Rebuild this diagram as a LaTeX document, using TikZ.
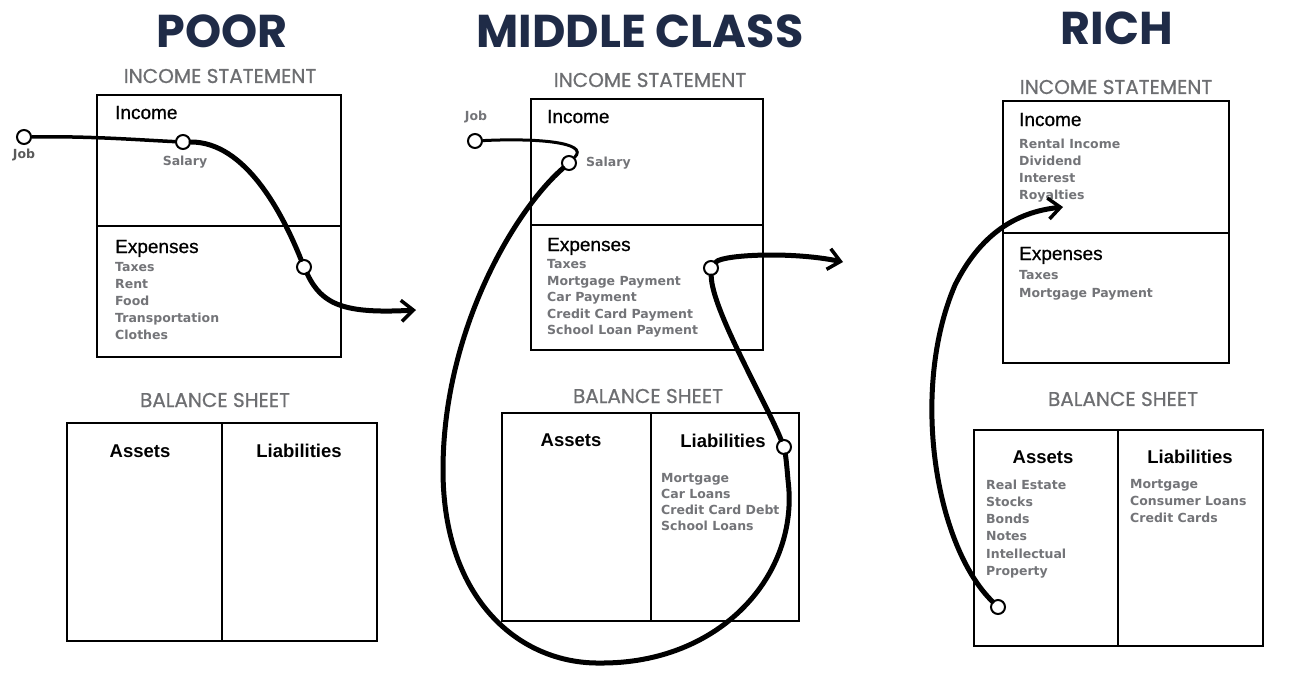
\documentclass[tikz,border=0pt]{standalone}
\usepackage{fontspec}
\setmainfont{Liberation Sans}
\newfontfamily\popf{Poppins}
\newfontfamily\popsect{Poppins}[FakeBold=0.6]
\newfontfamily\hdf{Liberation Sans}[FakeBold=0.8]
\newfontfamily\dvf{DejaVu Sans}
\usetikzlibrary{arrows.meta}
\definecolor{navy}{HTML}{1F2B47}
\definecolor{sgray}{HTML}{6D6E71}
\definecolor{igray}{HTML}{737478}
\begin{document}
\begin{tikzpicture}[x=1pt,y=-1pt,
  ttl/.style={font=\popf\bfseries\fontsize{46}{46}\selectfont, text=navy, inner sep=0},
  sect/.style={font=\popsect\fontsize{20}{20}\selectfont, text=sgray, inner sep=0},
  hd/.style={font=\hdf\fontsize{19}{19}\selectfont, anchor=base west, inner sep=0},
  hdb/.style={font=\bfseries\fontsize{18.5}{18.5}\selectfont, anchor=base, inner sep=0},
  items/.style={font=\dvf\bfseries\fontsize{12.5}{17}\selectfont, text=igray, align=left, anchor=north west, inner sep=0},
  lbl/.style={font=\dvf\bfseries\fontsize{12.5}{12.5}\selectfont, text=igray, inner sep=0},
  box/.style={draw, line width=2.6pt},
  dot/.style={circle, draw, line width=2pt, fill=white, minimum size=14pt, inner sep=0},
  flow/.style={line width=5pt, line cap=round},
  tip/.style={-{Straight Barb[length=12pt,width=21pt,line width=3.5pt]}}
]
\fill[white] (0,0) rectangle (1292,689);
\useasboundingbox (0,0) rectangle (1292,689);

% titles
\node[ttl] (tpoor) at (222,31) {POOR};
\node[ttl] (tmid) at (640,31) {MIDDLE CLASS};
\node[ttl] (trich) at (1117,28) {RICH};

% ---------- POOR ----------
\node[sect] (pis) at (220,76) {INCOME STATEMENT};
\draw[box] (97,95) rectangle (341,357);
\draw[box] (97,226) -- (341,226);
\node[hd] (pinc) at (115,119) {Income};
\node[hd] (pexph) at (115,253) {Expenses};
\node[items] (pexpi) at (115,262.5) {Taxes\\Rent\\Food\\Transportation\\Clothes};
\node[sect] (pbs) at (215,400) {BALANCE SHEET};
\draw[box] (67,423) rectangle (377,641);
\draw[box] (222,423) -- (222,641);
\node[hdb] (pass) at (140,457) {Assets};
\node[hdb] (pliab) at (299,457) {Liabilities};
\node[lbl, text=black!65] (pjobl) at (24,155) {Job};
\node[lbl] (psall) at (185,162) {Salary};
\node[dot] (pjob) at (24,137) {};
\node[dot] (psal) at (183,142) {};
\node[dot] (pexp) at (304,267) {};
\draw[flow, line width=3.5pt] (pjob) .. controls (90,136) and (140,140) .. (psal);
\draw[flow] (psal) .. controls (245,142) and (282,212) .. (pexp);
\draw[flow, tip] (pexp) .. controls (322,305) and (345,314) .. (416,310);

% ---------- MIDDLE CLASS ----------
\node[sect] (mis) at (650,80) {INCOME STATEMENT};
\draw[box] (531,99) rectangle (763,350);
\draw[box] (531,225) -- (763,225);
\node[hd] (minc) at (547,123) {Income};
\node[hd] (mexph) at (547,251) {Expenses};
\node[items, font=\dvf\bfseries\fontsize{12.5}{16.5}\selectfont] (mexpi) at (547,259.5) {Taxes\\Mortgage Payment\\Car Payment\\Credit Card Payment\\School Loan Payment};
\node[sect] (mbs) at (648,396) {BALANCE SHEET};
\draw[box] (502,413) rectangle (799,621);
\draw[box] (651,413) -- (651,621);
\node[hdb] (mass) at (571,446) {Assets};
\node[hdb] (mliabh) at (723,447) {Liabilities};
\node[items, font=\dvf\bfseries\fontsize{12.5}{16}\selectfont] (mliabi) at (661,473.5) {Mortgage\\Car Loans\\Credit Card Debt\\School Loans};
\node[lbl] (mjobl) at (476,117) {Job};
\node[lbl, anchor=west] (msall) at (586,163) {Salary};
\node[dot] (mjob) at (475,141) {};
\node[dot] (msal) at (569,163) {};
\node[dot] (mexp) at (711,268) {};
\node[dot] (mliab) at (784,447) {};
\draw[flow, line width=3pt] (mjob) .. controls (535,138) and (590,142) .. (msal);
\draw[flow] (msal) .. controls (515,210) and (443,330) .. (443,470)
  .. controls (443,600) and (520,664) .. (600,663)
  .. controls (720,664) and (800,575) .. (788,480)
  .. controls (787,468) and (786,458) .. (mliab);
\draw[flow] (mliab) .. controls (765,400) and (712,310) .. (mexp);
\draw[flow, tip] (mexp) .. controls (722,255) and (790,251) .. (843,262);

% ---------- RICH ----------
\node[sect] (ris) at (1116,87) {INCOME STATEMENT};
\draw[box] (1003,101) rectangle (1229,363);
\draw[box] (1003,233) -- (1229,233);
\node[hd] (rinc) at (1019,126) {Income};
\node[items] (rinci) at (1019,138.5) {Rental Income\\Dividend\\Interest\\Royalties};
\node[hd] (rexph) at (1019,260) {Expenses};
\node[items, font=\dvf\bfseries\fontsize{12.5}{18}\selectfont] (rexpi) at (1019,270.5) {Taxes\\Mortgage Payment};
\node[sect] (rbs) at (1123,399) {BALANCE SHEET};
\draw[box] (974,430) rectangle (1263,646);
\draw[box] (1118,430) -- (1118,646);
\node[hdb] (rass) at (1043,463) {Assets};
\node[hdb] (rliabh) at (1190,463) {Liabilities};
\node[items, font=\dvf\bfseries\fontsize{12.5}{17.2}\selectfont] (rassi) at (986,479.5) {Real Estate\\Stocks\\Bonds\\Notes\\Intellectual\\Property};
\node[items] (rliabi) at (1130,479.5) {Mortgage\\Consumer Loans\\Credit Cards};
\node[dot] (rc) at (998,607) {};
\draw[flow, tip] (rc) .. controls (935,545) and (910,390) .. (955,285)
  .. controls (980,235) and (1015,212) .. (1063,207);
\end{tikzpicture}
\end{document}
